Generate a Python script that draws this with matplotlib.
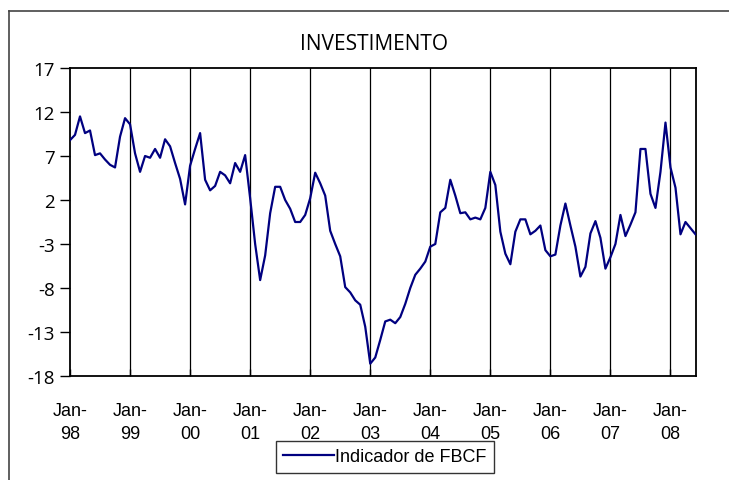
import matplotlib
matplotlib.use("Agg")
import matplotlib.pyplot as plt
from matplotlib.lines import Line2D

# Indicador de FBCF, monthly, Jan-98 .. Jun-08
fbcf_1998 = [8.8, 9.4, 11.5, 9.6, 9.9, 7.1, 7.3, 6.6, 6.0, 5.7, 9.2, 11.3]
fbcf_1999 = [10.6, 7.3, 5.2, 7.0, 6.8, 7.8, 6.8, 8.9, 8.1, 6.2, 4.4, 1.5]
fbcf_2000 = [5.9, 7.8, 9.6, 4.3, 3.1, 3.6, 5.2, 4.8, 3.9, 6.2, 5.2, 7.1]
fbcf_2001 = [2.2, -3.0, -7.1, -4.3, 0.5, 3.5, 3.5, 2.0, 1.0, -0.5, -0.5, 0.3]
fbcf_2002 = [2.2, 5.1, 3.9, 2.5, -1.5, -3.0, -4.4, -7.9, -8.5, -9.4, -9.9, -12.4]
fbcf_2003 = [-16.6, -15.9, -13.9, -11.8, -11.6, -12.0, -11.3, -9.8, -8.0, -6.5, -5.8, -5.0]
fbcf_2004 = [-3.3, -3.0, 0.6, 1.1, 4.3, 2.5, 0.5, 0.6, -0.2, 0.0, -0.2, 1.1]
fbcf_2005 = [5.2, 3.7, -1.6, -4.1, -5.3, -1.6, -0.2, -0.2, -1.9, -1.5, -0.9, -3.7]
fbcf_2006 = [-4.4, -4.2, -0.9, 1.6, -0.9, -3.3, -6.7, -5.6, -1.8, -0.4, -2.3, -5.8]
fbcf_2007 = [-4.5, -3.0, 0.3, -2.1, -0.8, 0.6, 7.8, 7.8, 2.7, 1.1, 5.2, 10.8]
fbcf_2008 = [5.7, 3.4, -1.9, -0.5, -1.2, -1.9]

years = ['98', '99', '00', '01', '02', '03', '04', '05', '06', '07', '08']
y_ticks = [17, 12, 7, 2, -3, -8, -13, -18]

fbcf = (fbcf_1998 + fbcf_1999 + fbcf_2000 + fbcf_2001 + fbcf_2002 + fbcf_2003
        + fbcf_2004 + fbcf_2005 + fbcf_2006 + fbcf_2007 + fbcf_2008)
months = list(range(len(fbcf)))
jan_pos = [12 * i for i in range(len(years))]

seg = ['Open Sans', 'DejaVu Sans']
arial = ['Liberation Sans', 'DejaVu Sans']

fig = plt.figure(figsize=(7.29, 4.81), dpi=100)
ax = fig.add_axes([70 / 729, 1 - 377 / 481, 625.5 / 729, 308 / 481])

# vertical lines at each January
for p in jan_pos[1:]:
    ax.axvline(p, color='black', linewidth=0.9, zorder=1)

ax.plot(months, fbcf, color='#000080', linewidth=1.6, label='Indicador de FBCF', zorder=3)

ax.set_xlim(0, len(fbcf) - 1)
ax.set_ylim(-18, 17)
ax.set_yticks(y_ticks)
ax.set_yticklabels([str(v) for v in y_ticks], family=seg, fontsize=13.5)
ax.set_xticks(jan_pos)
ax.set_xticklabels(['Jan-\n' + y for y in years], family=arial, fontsize=13,
                   linespacing=1.45)
ax.tick_params(axis='y', direction='out', length=7, width=1, pad=4)
ax.tick_params(axis='x', direction='in', length=5, width=1, pad=19)
for s in ax.spines.values():
    s.set_linewidth(1.3)
    s.set_color('black')

fig.text(374 / 729, 1 - 45 / 481, 'INVESTIMENTO', ha='center', va='center',
         family=seg, fontsize=15)

# chart area border (cropped on right and bottom)
fig.add_artist(Line2D([9 / 729, 9 / 729], [0, 1 - 12 / 481], color='#444444', linewidth=1.2))
fig.add_artist(Line2D([9 / 729, 1], [1 - 12 / 481, 1 - 12 / 481], color='#444444', linewidth=1.2))

leg = fig.legend(loc='center', bbox_to_anchor=(385 / 729, 1 - 458 / 481), frameon=True,
                 fancybox=False, edgecolor='black', handlelength=2.8, handletextpad=0.1,
                 borderpad=0.4, prop={'family': arial, 'size': 13})
leg.get_frame().set_linewidth(1.0)

fig.savefig('out.png', dpi=100)
